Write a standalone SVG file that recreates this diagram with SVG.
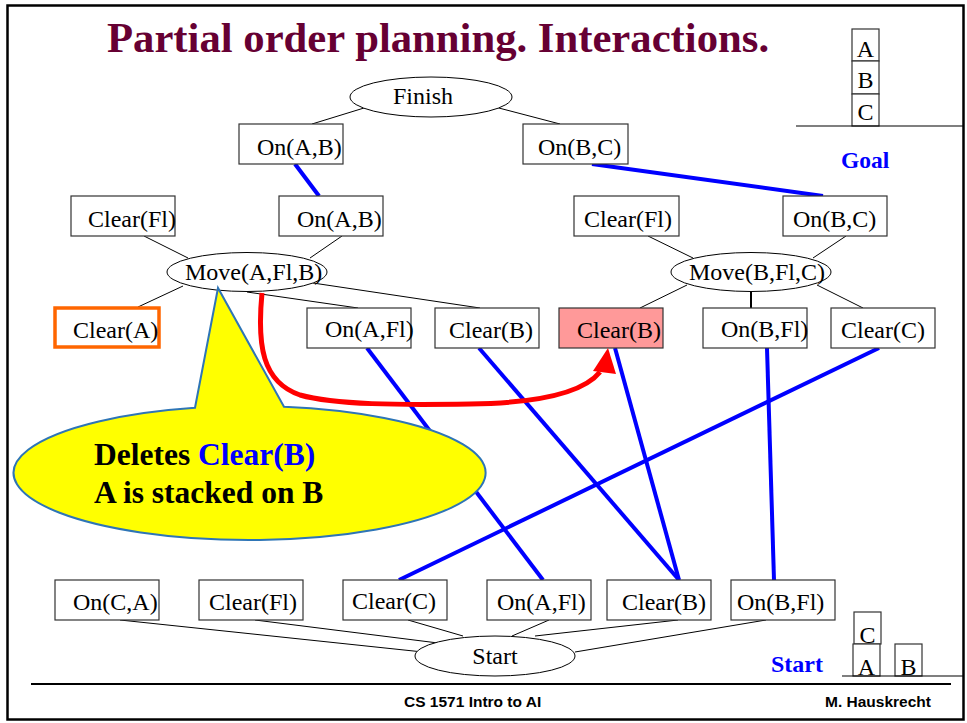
<svg xmlns="http://www.w3.org/2000/svg" width="967" height="723" viewBox="0 0 967 723">
  <style>
    .bg { fill: #ffffff; }
    .frame { fill: none; stroke: #000; stroke-width: 2.5; }
    .title { font-family: "Liberation Serif", "Times New Roman", serif; font-weight: bold; font-size: 42.7px; fill: #660033; }
    .box { fill: #ffffff; stroke: #333; stroke-width: 1.2; }
    .hot { fill: #ff9999; }
    .warn { fill: #ffffff; stroke: #ff6600; stroke-width: 3.5; }
    .oval { fill: #ffffff; stroke: #000; stroke-width: 1; }
    .lbl { font-family: "Liberation Serif", "Times New Roman", serif; font-size: 24px; fill: #000; }
    .edge { stroke: #000; stroke-width: 1; fill: none; }
    .link { stroke: #0000ff; stroke-width: 4; fill: none; }
    .state { font-family: "Liberation Serif", "Times New Roman", serif; font-weight: bold; font-size: 23.5px; fill: #0000ff; }
    .foot { font-family: "Liberation Sans", Arial, sans-serif; font-weight: bold; font-size: 15.5px; fill: #000; }
    .note { font-family: "Liberation Serif", "Times New Roman", serif; font-weight: bold; font-size: 31.5px; fill: #000; }
  </style>
  <defs>
    <marker id="redHead" viewBox="0 0 10 10" refX="9" refY="5" markerWidth="4.5" markerHeight="4.5" markerUnits="strokeWidth" orient="auto">
      <path d="M0,0 L10,5 L0,10 Z" fill="#ff0000"/>
    </marker>
  </defs>

  <rect class="bg" x="0" y="0" width="967" height="723"/>
  <rect class="frame" x="7.5" y="5.5" width="956" height="714"/>

  <text class="title" x="107" y="52">Partial order planning. Interactions.</text>

  <!-- goal state blocks -->
  <g id="goal-state">
    <rect class="box" x="852" y="29" width="27" height="32"/>
    <rect class="box" x="852" y="61" width="27" height="33"/>
    <rect class="box" x="852" y="94" width="27" height="32"/>
    <text class="lbl" x="865.5" y="57" text-anchor="middle">A</text>
    <text class="lbl" x="865.5" y="88" text-anchor="middle">B</text>
    <text class="lbl" x="865.5" y="120" text-anchor="middle">C</text>
    <line x1="796" y1="126" x2="964" y2="126" stroke="#000" stroke-width="1.2"/>
    <text class="state" x="841" y="168">Goal</text>
  </g>

  <!-- start state blocks -->
  <g id="start-state">
    <rect class="box" x="854" y="612" width="27" height="32"/>
    <rect class="box" x="853" y="644" width="27" height="32"/>
    <rect class="box" x="895" y="644" width="27" height="32"/>
    <text class="lbl" x="867.5" y="643" text-anchor="middle">C</text>
    <text class="lbl" x="866.5" y="675" text-anchor="middle">A</text>
    <text class="lbl" x="908.5" y="675" text-anchor="middle">B</text>
    <line x1="842" y1="676" x2="964" y2="676" stroke="#000" stroke-width="1.2"/>
    <text class="state" x="771" y="672" style="font-size:24px">Start</text>
  </g>

  <!-- connectors -->
  <g id="connectors">
    <!-- Finish -->
    <line class="edge" x1="364" y1="108" x2="312" y2="124"/>
    <line class="edge" x1="495" y1="107" x2="560" y2="124"/>
    <!-- Move(A,Fl,B) preconditions -->
    <line class="edge" x1="144" y1="236" x2="188" y2="258"/>
    <line class="edge" x1="342" y1="236" x2="310" y2="258"/>
    <!-- Move(B,Fl,C) preconditions -->
    <line class="edge" x1="648" y1="236" x2="693" y2="258"/>
    <line class="edge" x1="846" y1="236" x2="813" y2="258"/>
    <!-- Move(A,Fl,B) effects -->
    <line class="edge" x1="183" y1="286" x2="138" y2="307"/>
    <line class="edge" x1="247" y1="292" x2="358" y2="308"/>
    <line class="edge" x1="313" y1="283" x2="480" y2="308"/>
    <!-- Move(B,Fl,C) effects -->
    <line class="edge" x1="687" y1="285" x2="640" y2="308"/>
    <line x1="751" y1="292" x2="751" y2="308" stroke="#000" stroke-width="2"/>
    <line class="edge" x1="817" y1="285" x2="863" y2="308"/>
    <!-- Start effects -->
    <line class="edge" x1="120" y1="620" x2="423" y2="652"/>
    <line class="edge" x1="255" y1="620" x2="438" y2="643"/>
    <line class="edge" x1="408" y1="620" x2="463" y2="636"/>
    <line class="edge" x1="549" y1="620" x2="512" y2="636"/>
    <line class="edge" x1="678" y1="620" x2="535" y2="636"/>
    <line class="edge" x1="766" y1="620" x2="575" y2="652"/>
    <!-- causal links -->
    <line class="link" x1="295" y1="164" x2="319" y2="196"/>
    <line class="link" x1="592" y1="164" x2="823" y2="196"/>
    <line class="link" x1="367" y1="348" x2="543" y2="580"/>
    <line class="link" x1="479" y1="348" x2="679" y2="580"/>
    <line class="link" x1="615" y1="348" x2="679" y2="580"/>
    <line class="link" x1="767" y1="348" x2="774" y2="580"/>
    <line class="link" x1="879" y1="348" x2="399" y2="580"/>
  </g>

  <!-- plan steps -->
  <g id="finish">
    <ellipse class="oval" cx="431" cy="97" rx="81" ry="20"/>
    <text class="lbl" x="423" y="104" text-anchor="middle">Finish</text>
  </g>
  <g id="goal-onAB">
    <rect class="box" x="239" y="124" width="104" height="40"/>
    <text class="lbl" x="257" y="155">On(A,B)</text>
  </g>
  <g id="goal-onBC">
    <rect class="box" x="523" y="124" width="105" height="40"/>
    <text class="lbl" x="538" y="155">On(B,C)</text>
  </g>

  <g id="mab-clearFl">
    <rect class="box" x="71" y="196" width="104" height="40"/>
    <text class="lbl" x="88" y="227">Clear(Fl)</text>
  </g>
  <g id="mab-onAB">
    <rect class="box" x="279" y="196" width="104" height="40"/>
    <text class="lbl" x="297" y="227">On(A,B)</text>
  </g>
  <g id="mbc-clearFl">
    <rect class="box" x="574" y="196" width="105" height="40"/>
    <text class="lbl" x="584" y="227">Clear(Fl)</text>
  </g>
  <g id="mbc-onBC">
    <rect class="box" x="783" y="196" width="104" height="40"/>
    <text class="lbl" x="793" y="227">On(B,C)</text>
  </g>

  <g id="move-AFlB">
    <ellipse class="oval hot" cx="247" cy="272" rx="80" ry="19.5"/>
    <text class="lbl" x="185" y="280">Move(A,Fl,B)</text>
  </g>
  <g id="move-BFlC">
    <ellipse class="oval" cx="751" cy="272" rx="80" ry="19.5"/>
    <text class="lbl" x="689" y="280">Move(B,Fl,C)</text>
  </g>

  <g id="mab-clearA">
    <rect class="warn" x="55" y="308" width="104" height="39"/>
    <text class="lbl" x="73" y="338">Clear(A)</text>
  </g>
  <g id="mab-onAFl">
    <rect class="box" x="307" y="308" width="104" height="40"/>
    <text class="lbl" x="325" y="337">On(A,Fl)</text>
  </g>
  <g id="mab-clearB">
    <rect class="box" x="435" y="308" width="104" height="40"/>
    <text class="lbl" x="449" y="338">Clear(B)</text>
  </g>
  <g id="mbc-clearB">
    <rect class="box hot" x="559" y="308" width="104" height="40"/>
    <text class="lbl" x="577" y="338">Clear(B)</text>
  </g>
  <g id="mbc-onBFl">
    <rect class="box" x="703" y="308" width="104" height="40"/>
    <text class="lbl" x="721" y="337">On(B,Fl)</text>
  </g>
  <g id="mbc-clearC">
    <rect class="box" x="831" y="308" width="104" height="40"/>
    <text class="lbl" x="841" y="338">Clear(C)</text>
  </g>

  <g id="start-onCA">
    <rect class="box" x="55" y="580" width="104" height="40"/>
    <text class="lbl" x="73" y="610">On(C,A)</text>
  </g>
  <g id="start-clearFl">
    <rect class="box" x="199" y="580" width="104" height="40"/>
    <text class="lbl" x="209" y="610">Clear(Fl)</text>
  </g>
  <g id="start-clearC">
    <rect class="box" x="343" y="580" width="104" height="40"/>
    <text class="lbl" x="352" y="609">Clear(C)</text>
  </g>
  <g id="start-onAFl">
    <rect class="box" x="487" y="580" width="104" height="40"/>
    <text class="lbl" x="497" y="610">On(A,Fl)</text>
  </g>
  <g id="start-clearB">
    <rect class="box" x="607" y="580" width="104" height="40"/>
    <text class="lbl" x="622" y="610">Clear(B)</text>
  </g>
  <g id="start-onBFl">
    <rect class="box" x="731" y="580" width="104" height="40"/>
    <text class="lbl" x="737" y="610">On(B,Fl)</text>
  </g>

  <g id="start">
    <ellipse class="oval" cx="495" cy="656" rx="80" ry="20"/>
    <text class="lbl" x="495" y="664" text-anchor="middle">Start</text>
  </g>

  <!-- threat arrow -->
  <g id="threat">
    <path d="M262,293 C257,345 262,382 300,395 C335,405 400,405 470,404 C540,403 583,393 600,372" fill="none" stroke="#ff0000" stroke-width="5"/>
    <polygon points="608,348 593,371 616,374" fill="#ff0000"/>
  </g>

  <!-- callout -->
  <g id="callout">
    <path d="M195,407.8 L218,288 L284,406.7 A236,67 0 1 1 195,407.8 Z" fill="#ffff00" stroke="#2e75b6" stroke-width="2"/>
    <text class="note" x="94" y="465">Deletes <tspan fill="#0000ff">Clear(B)</tspan></text>
    <text class="note" x="94" y="503">A is stacked on B</text>
  </g>

  <!-- footer -->
  <line x1="31" y1="684" x2="951" y2="684" stroke="#000" stroke-width="2.2"/>
  <text class="foot" x="404" y="707">CS 1571 Intro to AI</text>
  <text class="foot" x="825" y="707">M. Hauskrecht</text>
</svg>
